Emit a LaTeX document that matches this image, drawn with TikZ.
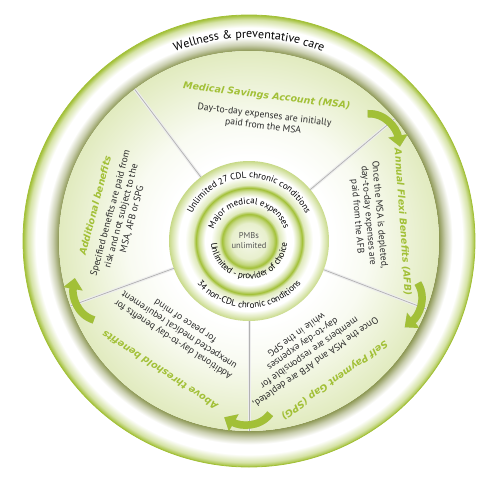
\documentclass[tikz,border=0pt]{standalone}
\usepackage{fontspec}
\setmainfont{PT Sans}
\newfontfamily\headfont{DejaVu Sans}
\usetikzlibrary{arrows.meta,decorations.text}
\definecolor{leaf}{HTML}{A2C037}
\definecolor{olive}{HTML}{8A9550}
\definecolor{ink}{HTML}{2B2B2B}
\definecolor{pmbgray}{HTML}{555555}
\newcommand\ringfont{\fontsize{9}{10}\selectfont}
\newcommand\wellfont{\fontsize{12}{14}\selectfont}
\pgfdeclareradialshading{rimshade}{\pgfpoint{0bp}{0bp}}{color(0bp)=(olive);
  color(21bp)=(olive); color(21.7bp)=(olive!45); color(22.5bp)=(white);
  color(23.6bp)=(white); color(24.5bp)=(leaf!45); color(25bp)=(leaf); color(50bp)=(leaf)}
\pgfdeclareradialshading{discshade}{\pgfpoint{0bp}{0bp}}{color(0bp)=(white);
  color(11bp)=(white); color(16bp)=(leaf!7); color(25bp)=(leaf!32); color(50bp)=(leaf!32)}
\pgfdeclareradialshading{coreshade}{\pgfpoint{0bp}{0bp}}{color(0bp)=(black!5!leaf!10);
  color(5.6bp)=(leaf!25); color(7.5bp)=(leaf!65); color(8.4bp)=(leaf);
  color(9.4bp)=(leaf!35); color(11.9bp)=(white); color(13.8bp)=(white);
  color(15.6bp)=(leaf!50); color(16.6bp)=(leaf); color(17.5bp)=(leaf!35);
  color(20bp)=(white); color(21.9bp)=(white); color(24bp)=(leaf!40);
  color(25bp)=(leaf!60); color(50bp)=(leaf!60)}
\tikzset{head/.style={font=\headfont\bfseries\itshape\fontsize{9.5}{11}\selectfont,
  text=leaf,inner sep=0pt},
  body/.style={font=\fontsize{9.6}{11.2}\selectfont,text=ink,align=center,inner sep=0pt},
  divider/.style={draw=black!30,line width=0.7pt,preaction={draw=black!7,line width=3pt}},
  flow/.style={-{Triangle[length=11pt,width=19pt]},line width=7.5pt,draw=leaf},
  flowshadow/.style={flow,draw=black!40,opacity=.35,shift={(1.5,-2)}},
  ringtext/.style={decorate,decoration={text along path,text={#1},text align=center}}}

\begin{document}
\begin{tikzpicture}[x=1pt,y=1pt]
\useasboundingbox (-249,-239) rectangle (251,241);
\shade[shading=rimshade,even odd rule] (0,0) circle (226) (0,0) circle (190);
\draw[leaf,line width=0.8pt] (0,0) circle (226);
\shade[shading=discshade] (0,0) circle (190);
\foreach \d in {40,127,200,270,339}{\draw[divider] (\d:80) -- (\d:190);}
\shade[shading=coreshade] (0,0) circle (80);
\path[ringtext={|\wellfont|Wellness {\&} preventative care}] (150:203) arc[start angle=150,end angle=30,radius=203];
\path[ringtext={|\ringfont|Unlimited 27 CDL chronic conditions}] (175:63) arc[start angle=175,end angle=5,radius=63];
\path[ringtext={|\ringfont|34 non-CDL chronic conditions}] (185:67) arc[start angle=185,end angle=355,radius=67];
\path[ringtext={|\ringfont|Major medical expenses}] (178:37) arc[start angle=178,end angle=2,radius=37];
\path[ringtext={|\ringfont|Unlimited - provider of choice}] (160:38) arc[start angle=160,end angle=380,radius=38];
\node[body,text=pmbgray,font=\fontsize{8.5}{10}\selectfont] (pmb) at (0,0) {PMBs\\unlimited};
\foreach \a/\r/\rot/\n/\t in {83/146/-7/msa/{Medical Savings Account (MSA)},
  7/155/-86/afb/{Annual Flexi Benefits (AFB)},
  301.5/163/215.5/spg/{Self Payment Gap (SPG)},
  235.4/157/147/above/{Above threshold benefits},
  167/158/75.5/extra/{Additional benefits}}{
  \node[head,rotate=\rot] (\n-head) at (\a:\r) {\t};}
\node[body,rotate=-7] (msa-text) at (83:121) {Day-to-day expenses are initially\\paid from the MSA};
\node[body,rotate=-85] (afb-text) at (12:122) {Once the MSA is depleted,\\day-to-day expenses are\\paid from the AFB};
\node[body,rotate=215] (spg-text) at (298:122) {Once the MSA and AFB are depleted,\\members are responsible for\\day-to-day expenses\\while in the SPG};
\node[body,rotate=147] (above-text) at (232:113) {Additional day-to-day benefits for\\unexpected medical requirement\\for peace of mind};
\node[body,rotate=75] (extra-text) at (169:130) {Specified benefits are paid from\\risk and not subject to the\\MSA, AFB or SPG};
\foreach \d/\n in {40/a,339/b,270/c,200/d}{
  \coordinate (\n-tail) at (\d+7:174);
  \coordinate (\n-tip) at (\d-8:178);
  \draw[flowshadow] (\n-tail) to[out=\d-37,in=\d+60] (\n-tip);
  \draw[flow] (\n-tail) to[out=\d-37,in=\d+60] (\n-tip);}
\end{tikzpicture}
\end{document}
